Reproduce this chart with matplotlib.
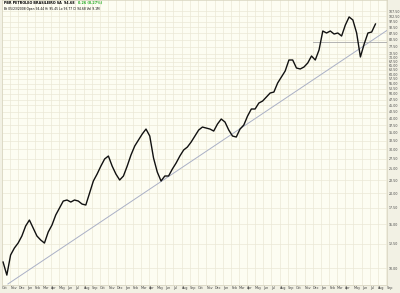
import matplotlib
matplotlib.use("Agg")
import matplotlib.pyplot as plt
import matplotlib.dates as mdates
import matplotlib.ticker as mticker
import pandas as pd

# ---- data ----
start_date = "2004-10-05"
close = [10.57, 9.37, 11.28, 12.03, 12.60, 13.45, 14.75, 15.59, 14.48, 13.45,
         12.96, 12.60, 13.95, 14.88, 16.33, 17.42, 18.58, 18.76, 18.41, 18.76,
         18.58, 18.07, 17.91, 20.01, 22.36, 23.85, 25.67, 27.41, 28.17, 25.67,
         23.85, 22.57, 23.42, 25.67, 28.43, 30.90, 32.67, 34.53, 36.15, 33.89,
         27.66, 24.29, 22.36, 23.42, 23.42, 24.97, 26.40, 28.17, 29.78, 30.61,
         32.06, 33.89, 35.82, 36.83, 36.49, 36.15, 35.49, 37.86, 39.66, 38.57,
         35.82, 33.89, 33.58, 36.15, 37.52, 40.77, 43.51, 43.51, 45.98, 46.84,
         48.60, 50.44, 50.90, 55.34, 58.50, 61.83, 68.45, 68.45, 63.57, 63.00,
         64.16, 66.58, 71.03, 68.45, 75.08, 89.48, 87.85, 89.48, 87.04, 87.85,
         85.44, 94.60, 101.9, 99.08, 87.85, 70.38, 79.37, 87.85, 88.66, 95.48]
dates = pd.date_range(start_date, periods=len(close), freq="14D")

trend_dates = ["2004-10-23", "2008-09-05"]
trend_values = [8.63, 90.3]
level_dates = ["2007-12-03", "2008-09-05"]
level_values = [81.0, 81.0]

y_ticks = [10, 12.5, 15, 17.5, 20, 22.5, 25, 27.5, 30, 32.5, 35, 37.5, 40,
           42.5, 45, 47.5, 50, 52.5, 55, 57.5, 60, 62.5, 65, 67.5, 70, 72.5,
           77.5, 82.5, 87.5, 92.5, 97.5, 102.5, 107.5]

title_main = "PBR PETROLEO BRASILEIRO SA  94.68"
title_chg = "0.26 (0.27%)"
title_sub = "Bt 05/23/2008 Open 94.44 Hi 95.45 Lo 93.77 Cl 94.68 Vol 9.1M"

# ---- style ----
bg = "#fdfdf2"
panel = "#f2f1e4"
grid_c = "#ebe8d6"

fig = plt.figure(figsize=(4.0, 2.93), dpi=100)
fig.patch.set_facecolor(panel)
ax = fig.add_axes([2/400, 8/293, 385/400, 285/293])
ax.set_facecolor(bg)

ax.plot(dates, close, color="#111111", lw=1.0, zorder=3)
ax.plot(pd.to_datetime(trend_dates), trend_values, color="#aab0c6", lw=0.7, zorder=2)
ax.plot(pd.to_datetime(level_dates), level_values, color="#a8a8a8", lw=0.6, zorder=2)

ax.set_yscale("log")
ax.set_ylim(8.55, 119.2)
ax.set_xlim(pd.Timestamp("2004-10-01"), pd.Timestamp("2008-09-03"))

ax.yaxis.tick_right()
ax.yaxis.set_major_locator(mticker.FixedLocator(y_ticks))
ax.yaxis.set_minor_locator(mticker.NullLocator())
ax.yaxis.set_major_formatter(mticker.FuncFormatter(lambda v, p: f"{v:.2f}"))
ax.tick_params(axis="y", length=0, pad=1.0, labelsize=2.3, labelcolor="#444444")

ax.xaxis.set_major_locator(mdates.MonthLocator())
ax.xaxis.set_major_formatter(mdates.DateFormatter("%b"))
ax.xaxis.set_minor_locator(mticker.NullLocator())
ax.tick_params(axis="x", length=0, pad=1.0, labelsize=2.4, labelcolor="#444444")
for lab in ax.get_xticklabels():
    lab.set_horizontalalignment("left")

ax.grid(True, which="major", color=grid_c, lw=0.5, zorder=0)
for s in ax.spines.values():
    s.set_color("#d6d2bc")
    s.set_linewidth(0.5)

t1 = ax.text(0.004, 0.996, title_main, transform=ax.transAxes, fontsize=2.4,
             fontweight="bold", va="top", ha="left", color="black")
ax.annotate(title_chg, xy=(1, 1), xycoords=t1, xytext=(3, 0),
            textcoords="offset points", fontsize=2.4, fontweight="bold",
            va="top", ha="left", color="#22aa22")
ax.text(0.004, 0.975, title_sub, transform=ax.transAxes, fontsize=2.2,
        va="top", ha="left", color="black")

fig.savefig("out.png", dpi=100, facecolor=fig.get_facecolor())
